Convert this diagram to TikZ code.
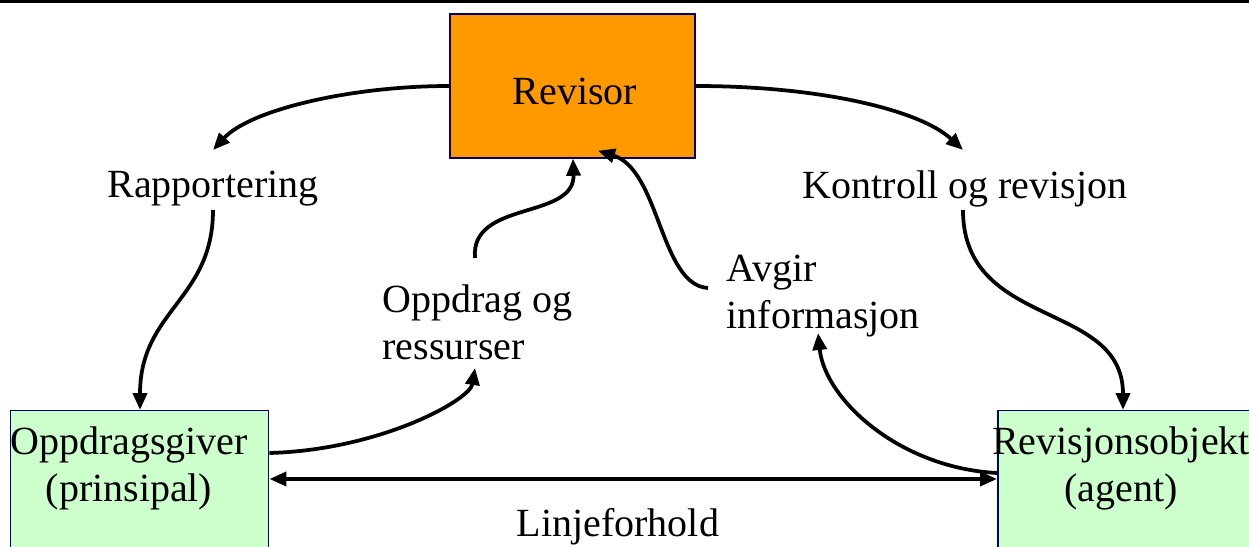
\documentclass[tikz,border=0pt]{standalone}
\usepackage{fontspec}
\setmainfont{Liberation Serif}
\usepackage{tikz}
\usetikzlibrary{arrows.meta}

\begin{document}
\begin{tikzpicture}[x=0.02cm, y=-0.02cm, line width=0.075cm, % 1 unit = 1px, y downwards
  pil/.style={-{Triangle[length=0.34cm,width=0.28cm]}}, % arrow with filled tip
  boks/.style={draw=blue!50!black, line width=0.03cm, inner sep=0pt},
  tekst/.style={font=\fontsize{22.76}{26.7}\selectfont, inner sep=1pt}]
  \clip (0,0) rectangle (1249,547); % picture frame
  \draw (0,1) -- (1249,1); % top rule

  \node[boks, fill={rgb,255:red,255;green,153;blue,0}, minimum width=4.9cm, minimum height=2.88cm] (rev) at (572.5,86) {}; % Revisor box
  \node[boks, fill={rgb,255:red,204;green,255;blue,204}, minimum width=5.16cm, minimum height=4.2cm, anchor=north west] (oppdr) at (10,410) {};
  \node[boks, fill={rgb,255:red,204;green,255;blue,204}, minimum width=5.3cm, minimum height=4.2cm, anchor=north west] (revobj) at (997,410) {};

  \node[tekst] (revt) at (575,91) {Revisor};
  \node[tekst, align=center] (oppdrt) at (129,468) {Oppdragsgiver\\(prinsipal)};
  \node[tekst, align=center] (revobjt) at (1121,468) {Revisjonsobjekt\\(agent)};
  \node[tekst] (rap) at (213,189) {Rapportering};
  \node[tekst] (kon) at (965,189) {Kontroll og revisjon};
  \node[tekst, align=left, anchor=west] (ores) at (379,322) {Oppdrag og\\ressurser};
  \node[tekst, align=left, anchor=west] (avg) at (723,296) {Avgir\\informasjon};
  \node[tekst] (lin) at (618,527) {Linjeforhold};

  \coordinate (rapinn) at (213,150); % arrow ends
  \coordinate (raput) at (213,210);
  \coordinate (koninn) at (963,150);
  \coordinate (konut) at (963,210);
  \coordinate (oresinn) at (475,368);
  \coordinate (oresut) at (475,258);
  \coordinate (avginn) at (818,333);
  \coordinate (avgut) at (708,288);

  \draw[pil] (rev.west) .. controls (350,86) and (250,110) .. (rapinn); % til rapportering
  \draw[pil] (raput) .. controls (213,300) and (140,310) .. (oppdr.north -| 140,0);
  \draw[pil] (rev.east) .. controls (820,86) and (920,110) .. (koninn); % kontroll
  \draw[pil] (konut) .. controls (963,330) and (1123,300) .. (revobj.north -| 1123,0);
  \draw[pil] (oppdr.east |- 0,453) .. controls (380,450) and (470,400) .. (oresinn); % oppdrag
  \draw[pil] (oresut) .. controls (470,200) and (575,220) .. (rev.south -| 573,0);
  \draw[pil] (avgut) .. controls (660,285) and (660,170) .. ([yshift=0.16cm]rev.south -| 598,0); % informasjon
  \draw[pil] (revobj.west |- 0,473) .. controls (900,468) and (825,400) .. (avginn);
  \draw[{Triangle[length=0.34cm,width=0.28cm]}-{Triangle[length=0.34cm,width=0.28cm]}] (oppdr.east |- 0,479) -- (revobj.west |- 0,479); % linjeforhold
\end{tikzpicture}
\end{document}
